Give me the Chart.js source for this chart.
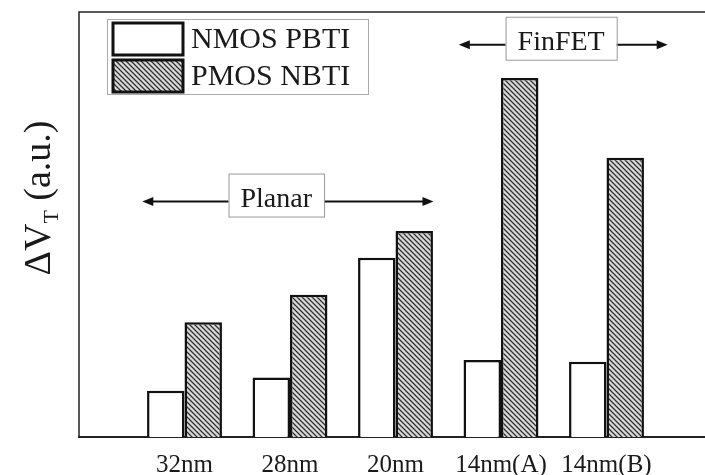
<!DOCTYPE html>
<html lang="en">
<head>
    <meta charset="UTF-8">
    <title>Delta VT by node</title>
    <script src="https://cdn.jsdelivr.net/npm/chart.js"></script>
    <style>
        body { margin: 0; background: #fff; overflow: hidden; }
        #wrap { width: 705px; height: 475px; overflow: hidden; }
    </style>
</head>
<body>
    <div id="wrap"><canvas id="vtChart" width="725" height="493"></canvas></div>

    <script>
        // values (arbitrary units, 0-100 = bottom to top of frame)
        const nodes = ['32nm', '28nm', '20nm', '14nm(A)', '14nm(B)'];
        const nmosPbti = [10.9, 14.0, 42.2, 18.1, 17.7];
        const pmosNbti = [27.0, 33.5, 48.5, 84.5, 65.7];
        const seriesNames = ['NMOS PBTI', 'PMOS NBTI'];

        // technology regions: span in category index (padded axis), y of arrow
        const regionNames = ['Planar', 'FinFET'];
        const regionFrom = [0.6, 3.6];
        const regionTo = [3.36, 5.58];
        const regionLabelAt = [1.87, 4.57];
        const regionY = [55.4, 92.3];

        // empty slot at each end so the groups sit where they do in the figure
        const labels = [''].concat(nodes, ['']);
        const pad = arr => [null].concat(arr, [null]);

        const serif = '"Liberation Serif", "DejaVu Serif", serif';

        function makeHatch() {
            const c = document.createElement('canvas');
            c.width = 5; c.height = 5;
            const g = c.getContext('2d');
            g.fillStyle = '#dadada';
            g.fillRect(0, 0, 5, 5);
            g.strokeStyle = '#333';
            g.lineWidth = 1.3;
            g.beginPath();
            for (let k = -1; k <= 1; k++) {
                g.moveTo(-1, -1 + k * 5);
                g.lineTo(6, 6 + k * 5);
            }
            g.stroke();
            return g.createPattern(c, 'repeat');
        }
        const hatch = makeHatch();

        function arrowHead(ctx, x, y, dir) {
            ctx.beginPath();
            ctx.moveTo(x, y);
            ctx.lineTo(x - dir * 11, y - 4.5);
            ctx.lineTo(x - dir * 11, y + 4.5);
            ctx.closePath();
            ctx.fill();
        }

        // frame, legend, region arrows and the y title
        const extras = {
            id: 'extras',
            afterDatasetsDraw(chart) {
                const ctx = chart.ctx;
                const a = chart.chartArea;
                const xs = chart.scales.x, ys = chart.scales.y;
                ctx.save();

                // frame (top + left)
                ctx.strokeStyle = '#222';
                ctx.lineWidth = 1.5;
                ctx.beginPath();
                ctx.moveTo(a.left, a.bottom);
                ctx.lineTo(a.left, a.top);
                ctx.lineTo(a.right, a.top);
                ctx.lineTo(a.right, a.bottom);
                ctx.stroke();

                // legend
                const lx = a.left + 28, ly = a.top + 7;
                ctx.fillStyle = '#fff';
                ctx.fillRect(lx, ly, 261, 75);
                ctx.strokeStyle = '#aaa';
                ctx.lineWidth = 1;
                ctx.strokeRect(lx + 0.5, ly + 0.5, 261, 75);
                chart.data.datasets.forEach((ds, i) => {
                    const sy = ly + 4 + i * 37;
                    ctx.fillStyle = ds.backgroundColor;
                    ctx.fillRect(lx + 6, sy, 70, 32);
                    ctx.strokeStyle = '#111';
                    ctx.lineWidth = 3;
                    ctx.strokeRect(lx + 6, sy, 70, 32);
                    ctx.fillStyle = '#1a1a1a';
                    ctx.font = '30px ' + serif;
                    ctx.textBaseline = 'middle';
                    ctx.textAlign = 'left';
                    ctx.fillText(ds.label, lx + 84, sy + 17);
                });

                // region arrows with boxed labels
                ctx.font = '28px ' + serif;
                regionNames.forEach((name, i) => {
                    const x0 = xs.getPixelForValue(regionFrom[i]);
                    const x1 = xs.getPixelForValue(regionTo[i]);
                    const y = ys.getPixelForValue(regionY[i]);
                    const cx = xs.getPixelForValue(regionLabelAt[i]);
                    const w = ctx.measureText(name).width + 24;
                    const bx = cx - w / 2, by = y - 28;
                    ctx.strokeStyle = '#111';
                    ctx.fillStyle = '#111';
                    ctx.lineWidth = 2;
                    ctx.beginPath();
                    ctx.moveTo(x0 + 4, y);
                    ctx.lineTo(x1 - 4, y);
                    ctx.stroke();
                    arrowHead(ctx, x0, y, -1);
                    arrowHead(ctx, x1, y, 1);
                    ctx.fillStyle = '#fff';
                    ctx.fillRect(bx, by, w, 43);
                    ctx.strokeStyle = '#999';
                    ctx.lineWidth = 1;
                    ctx.strokeRect(bx + 0.5, by + 0.5, w, 43);
                    ctx.fillStyle = '#1a1a1a';
                    ctx.textAlign = 'center';
                    ctx.textBaseline = 'alphabetic';
                    ctx.fillText(name, cx, by + 33);
                });

                // y title: ΔV_T (a.u.)
                ctx.translate(50, 198);
                ctx.rotate(-Math.PI / 2);
                ctx.fillStyle = '#1a1a1a';
                ctx.textBaseline = 'alphabetic';
                ctx.textAlign = 'left';
                const big = '38px ' + serif, small = '22px ' + serif;
                const p1 = 'ΔV', p3 = ' (a.u.)';
                ctx.font = big;
                const w1 = ctx.measureText(p1).width;
                const w3 = ctx.measureText(p3).width;
                ctx.font = small;
                const w2 = ctx.measureText('T').width;
                let x = -(w1 + w2 + w3) / 2;
                ctx.font = big;
                ctx.fillText(p1, x, 0);
                x += w1;
                ctx.font = small;
                ctx.fillText('T', x, 8);
                x += w2;
                ctx.font = big;
                ctx.fillText(p3, x, 0);
                ctx.restore();
            }
        };

        new Chart(document.getElementById('vtChart'), {
            type: 'bar',
            data: {
                labels: labels,
                datasets: [{
                    label: seriesNames[0],
                    data: pad(nmosPbti),
                    backgroundColor: '#ffffff',
                    borderColor: '#111',
                    borderWidth: 2.5
                }, {
                    label: seriesNames[1],
                    data: pad(pmosNbti),
                    backgroundColor: hatch,
                    borderColor: '#111',
                    borderWidth: 2.5
                }]
            },
            options: {
                responsive: false,
                animation: false,
                layout: { padding: { left: 79, top: 12, right: 10, bottom: 0 } },
                datasets: { bar: { categoryPercentage: 0.71, barPercentage: 1 } },
                plugins: { legend: { display: false }, tooltip: { enabled: false } },
                scales: {
                    x: {
                        offset: false,
                        grid: { display: false, drawTicks: false },
                        border: { display: true, color: '#222', width: 2 },
                        ticks: {
                            autoSkip: false,
                            maxRotation: 0,
                            padding: 13,
                            color: '#1a1a1a',
                            font: { family: serif, size: 25 }
                        }
                    },
                    y: {
                        display: false,
                        min: 0,
                        max: 100
                    }
                }
            },
            plugins: [extras]
        });
    </script>
</body>
</html>
